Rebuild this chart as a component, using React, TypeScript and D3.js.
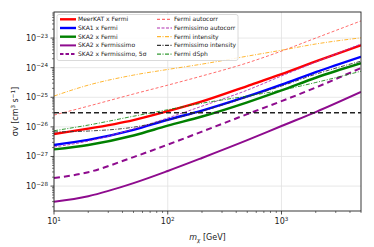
import React from 'react';
import * as d3 from 'd3';

// dark matter mass grid [GeV]
const MASSES = [10, 20, 50, 100, 200, 500, 1000, 2000, 5000];

// <sigma v> limits [cm^3 s^-1]
const MEERKAT_FERMI = [5.75e-27, 8.7e-27, 1.7e-26, 3.39e-26, 7.24e-26, 2.4e-25, 6.0e-25, 1.62e-24, 5.75e-24];
const SKA1_FERMI = [2.45e-27, 3.63e-27, 7.94e-27, 1.74e-26, 3.55e-26, 1.07e-25, 2.69e-25, 7.08e-25, 2.34e-24];
const SKA2_FERMI = [1.74e-27, 2.45e-27, 5.13e-27, 1.1e-26, 2.24e-26, 6.76e-26, 1.7e-25, 4.57e-25, 1.41e-24];
const SKA2_FERMISSIMO = [2.95e-29, 4.57e-29, 1.26e-28, 3.24e-28, 8.91e-28, 3.55e-27, 1.07e-26, 3.16e-26, 1.51e-25];
const SKA2_FERMISSIMO_5SIG = [1.86e-28, 2.95e-28, 9.55e-28, 2.51e-27, 6.92e-27, 2.69e-26, 7.41e-26, 2.14e-25, 9.77e-25];
const FERMI_AUTOCORR = [2.51e-26, 5.01e-26, 1.29e-25, 2.57e-25, 5.25e-25, 1.45e-24, 3.63e-24, 1.0e-23, 3.8e-23];
const FERMISSIMO_AUTOCORR = [2.09e-27, 3.31e-27, 8.51e-27, 2.0e-26, 5.01e-26, 1.74e-25, 5.25e-25, 1.55e-24, 6.31e-24];
const FERMI_INTENSITY = [1.1e-25, 2.57e-25, 5.62e-25, 8.71e-25, 1.32e-24, 2.45e-24, 3.89e-24, 6.31e-24, 1.02e-23];
const FERMISSIMO_INTENSITY = [6.76e-27, 7.24e-27, 9.77e-27, 1.7e-26, 3.39e-26, 1.02e-25, 2.4e-25, 6.03e-25, 1.66e-24];
const FERMI_DSPH = [7.41e-27, 1.15e-26, 2.29e-26, 3.8e-26, 6.31e-26, 1.1e-25, 1.74e-25, 3.16e-25, 7.59e-25];
const THERMAL_RELIC = 3e-26;

const X_TICKS = [10, 100, 1000];
const X_TICK_EXP = ['1', '2', '3'];
const Y_TICKS = [1e-28, 1e-27, 1e-26, 1e-25, 1e-24, 1e-23];
const Y_TICK_EXP = ['\u221228', '\u221227', '\u221226', '\u221225', '\u221224', '\u221223'];

const PURPLE = '#8e0b8e';

const SERIES = [
  { label: 'MeerKAT x Fermi', values: MEERKAT_FERMI, color: 'red', width: 2.4, dash: null, opacity: 1 },
  { label: 'SKA1 x Fermi', values: SKA1_FERMI, color: 'blue', width: 2.4, dash: null, opacity: 1 },
  { label: 'SKA2 x Fermi', values: SKA2_FERMI, color: 'green', width: 2.4, dash: null, opacity: 1 },
  { label: 'SKA2 x Fermissimo', values: SKA2_FERMISSIMO, color: PURPLE, width: 2, dash: null, opacity: 1 },
  { label: 'SKA2 x Fermissimo, 5\u03c3', values: SKA2_FERMISSIMO_5SIG, color: PURPLE, width: 2, dash: '6 4', opacity: 1 },
  { label: 'Fermi autocorr', values: FERMI_AUTOCORR, color: '#ff3333', width: 0.8, dash: '3 2', opacity: 0.9 },
  { label: 'Fermissimo autocorr', values: FERMISSIMO_AUTOCORR, color: '#b030b0', width: 0.9, dash: '3 1.5', opacity: 1 },
  { label: 'Fermi intensity', values: FERMI_INTENSITY, color: 'orange', width: 0.8, dash: '4 1.5 1 1.5', opacity: 1 },
  { label: 'Fermissimo intensity', values: FERMISSIMO_INTENSITY, color: '#333333', width: 0.9, dash: '4 1.5 1 1.5', opacity: 1 },
  { label: 'Fermi dSph', values: FERMI_DSPH, color: 'green', width: 0.8, dash: '4 1.5 1 1.5', opacity: 1 },
];

const W = 374;
const H = 247;
const margin = { top: 12, right: 13, bottom: 36, left: 54 };
const FONT = 'DejaVu Sans, sans-serif';

export default function App() {
  const innerW = W - margin.left - margin.right;
  const innerH = H - margin.top - margin.bottom;

  const x = d3.scaleLog().domain([10, 5000]).range([margin.left, margin.left + innerW]);
  const y = d3.scaleLog().domain([1.44e-29, 7.6e-23]).range([margin.top + innerH, margin.top]);

  const line = d3.line<[number, number]>()
    .x(d => x(d[0]))
    .y(d => y(d[1]))
    .curve(d3.curveMonotoneX);

  // minor ticks
  const xMinor: number[] = [];
  [10, 100, 1000].forEach(dec => {
    for (let k = 2; k <= 9; k++) if (dec * k <= 5000) xMinor.push(dec * k);
  });
  const yMinor: number[] = [];
  [1e-29, 1e-28, 1e-27, 1e-26, 1e-25, 1e-24, 1e-23].forEach(dec => {
    for (let k = 2; k <= 9; k++) {
      const v = dec * k;
      if (v >= 1.44e-29 && v <= 7.6e-23) yMinor.push(v);
    }
  });

  const x0 = margin.left;
  const x1 = margin.left + innerW;
  const y0 = margin.top;
  const y1 = margin.top + innerH;

  // legend layout
  const legX = 57;
  const legY = 14.5;
  const rowH = 8.7;
  const col1 = SERIES.slice(0, 5);
  const col2 = SERIES.slice(5);

  return (
    <svg width={W} height={H} style={{ position: 'absolute', left: 0, top: 0, background: 'white' }} fontFamily={FONT}>
      <defs>
        <clipPath id="plot-clip">
          <rect x={x0} y={y0} width={innerW} height={innerH} />
        </clipPath>
      </defs>
      <rect x={0} y={0} width={W} height={H} fill="white" />

      {/* grid */}
      {X_TICKS.map(t => (
        <line key={'gx' + t} x1={x(t)} x2={x(t)} y1={y0} y2={y1} stroke="#e2e2e2" strokeWidth={0.8} />
      ))}
      {Y_TICKS.map(t => (
        <line key={'gy' + t} x1={x0} x2={x1} y1={y(t)} y2={y(t)} stroke="#e2e2e2" strokeWidth={0.8} />
      ))}

      {/* curves */}
      <g clipPath="url(#plot-clip)">
        {SERIES.map(s => (
          <path
            key={s.label}
            d={line(MASSES.map((m, i) => [m, s.values[i]] as [number, number])) || ''}
            fill="none"
            stroke={s.color}
            strokeWidth={s.width}
            strokeDasharray={s.dash || undefined}
            strokeOpacity={s.opacity}
          />
        ))}
        <line x1={x0} x2={x1} y1={y(THERMAL_RELIC)} y2={y(THERMAL_RELIC)}
          stroke="#222" strokeWidth={1.6} strokeDasharray="5 3" />
      </g>

      {/* frame */}
      <rect x={x0} y={y0} width={innerW} height={innerH} fill="none" stroke="#222" strokeWidth={0.9} />

      {/* x ticks */}
      {X_TICKS.map((t, i) => (
        <g key={'xt' + t}>
          <line x1={x(t)} x2={x(t)} y1={y1} y2={y1 + 3.5} stroke="#222" strokeWidth={0.8} />
          <text x={x(t)} y={y1 + 13} fontSize={8} textAnchor="middle" fill="#222">
            10<tspan dy={-3.5} fontSize={5.6}>{X_TICK_EXP[i]}</tspan>
          </text>
        </g>
      ))}
      {xMinor.map(t => (
        <line key={'xm' + t} x1={x(t)} x2={x(t)} y1={y1} y2={y1 + 2} stroke="#222" strokeWidth={0.6} />
      ))}

      {/* y ticks */}
      {Y_TICKS.map((t, i) => (
        <g key={'yt' + t}>
          <line x1={x0 - 3.5} x2={x0} y1={y(t)} y2={y(t)} stroke="#222" strokeWidth={0.8} />
          <text x={x0 - 6} y={y(t) + 3} fontSize={8} textAnchor="end" fill="#222">
            10<tspan dy={-3.5} fontSize={5.6}>{Y_TICK_EXP[i]}</tspan>
          </text>
        </g>
      ))}
      {yMinor.map(t => (
        <line key={'ym' + t} x1={x0 - 2} x2={x0} y1={y(t)} y2={y(t)} stroke="#222" strokeWidth={0.6} />
      ))}

      {/* axis labels */}
      <text x={(x0 + x1) / 2} y={240} fontSize={8} textAnchor="middle" fill="#222">
        <tspan fontStyle="italic">m</tspan>
        <tspan dy={1.8} fontSize={5.6} fontStyle="italic">{'\u03c7'}</tspan>
        <tspan dy={-1.8}> [GeV]</tspan>
      </text>
      <text transform={`translate(18,${(y0 + y1) / 2}) rotate(-90)`} fontSize={8} textAnchor="middle" fill="#222">
        {'\u03c3v [cm'}
        <tspan dy={-3} fontSize={5.6}>3</tspan>
        <tspan dy={3}>{' s'}</tspan>
        <tspan dy={-3} fontSize={5.6}>{'\u22121'}</tspan>
        <tspan dy={3}>]</tspan>
      </text>

      {/* legend */}
      <rect x={legX} y={legY} width={181} height={46} rx={2} fill="white" fillOpacity={0.85}
        stroke="#d0d0d0" strokeWidth={0.8} />
      {col1.map((s, i) => {
        const ry = legY + 4.8 + i * rowH;
        return (
          <g key={'l1' + s.label}>
            <line x1={60} x2={76} y1={ry} y2={ry} stroke={s.color} strokeWidth={s.width}
              strokeDasharray={s.dash ? '3.5 2' : undefined} />
            <text x={78} y={ry + 2} fontSize={6} fill="#222">{s.label}</text>
          </g>
        );
      })}
      {col2.map((s, i) => {
        const ry = legY + 4.8 + i * rowH;
        return (
          <g key={'l2' + s.label}>
            <line x1={157} x2={172} y1={ry} y2={ry} stroke={s.color} strokeWidth={s.width + 0.2}
              strokeDasharray={s.dash || undefined} strokeOpacity={s.opacity} />
            <text x={174} y={ry + 2} fontSize={6} fill="#222">{s.label}</text>
          </g>
        );
      })}
    </svg>
  );
}
